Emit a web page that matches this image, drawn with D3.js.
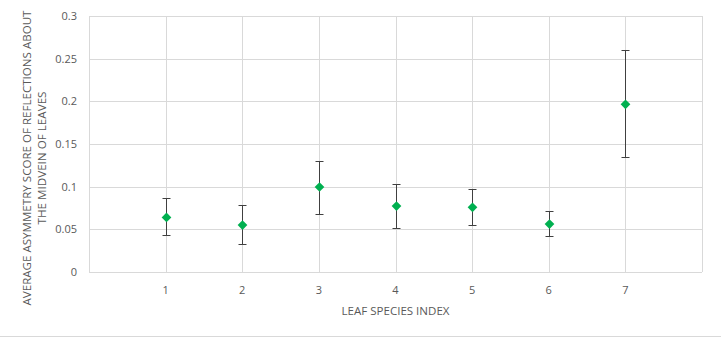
<!DOCTYPE html>
<html>
<head>
<meta charset="utf-8">
<script src="https://cdn.jsdelivr.net/npm/d3@7"></script>
<style>
  body { margin: 0; background: #fff; }
  svg { display: block; font-family: "Open Sans", sans-serif; }
</style>
</head>
<body>
<svg id="chart" width="721" height="338"></svg>
<script>
const species = [1, 2, 3, 4, 5, 6, 7];
const means = [0.064, 0.055, 0.0996, 0.0773, 0.0758, 0.0562, 0.1965];
const upper = [0.0864, 0.0785, 0.130, 0.1027, 0.0969, 0.0711, 0.2598];
const lower = [0.043, 0.0328, 0.0676, 0.0512, 0.0551, 0.0418, 0.1348];
const yTicks = [0, 0.05, 0.1, 0.15, 0.2, 0.25, 0.3];
const xTicks = [0, 1, 2, 3, 4, 5, 6, 7, 8];

const margin = { top: 16, right: 19, bottom: 66, left: 89 };
const width = 721, height = 338;
const svg = d3.select('#chart');

const x = d3.scaleLinear().domain([0, 8]).range([margin.left, width - margin.right]);
const y = d3.scaleLinear().domain([0, 0.3]).range([height - margin.bottom, margin.top]);

const grid = svg.append('g').attr('stroke', '#d9d9d9').attr('stroke-width', 1);
grid.selectAll('line.h').data(yTicks).join('line')
  .attr('x1', x(0)).attr('x2', x(8))
  .attr('y1', d => Math.round(y(d)) + 0.5).attr('y2', d => Math.round(y(d)) + 0.5);
grid.selectAll('line.v').data(xTicks).join('line')
  .attr('x1', d => Math.round(x(d)) + 0.5).attr('x2', d => Math.round(x(d)) + 0.5)
  .attr('y1', y(0.3)).attr('y2', y(0));

// tick labels
svg.append('g').selectAll('text').data(yTicks).join('text')
  .attr('x', 77).attr('y', d => y(d)).attr('dy', '0.35em')
  .attr('text-anchor', 'end').attr('font-size', 11).attr('fill', '#595959')
  .text(d => d);
svg.append('g').selectAll('text').data(species).join('text')
  .attr('x', d => x(d)).attr('y', 290).attr('dy', '0.35em')
  .attr('text-anchor', 'middle').attr('font-size', 11).attr('fill', '#595959')
  .text(d => d);

// axis titles
svg.append('text')
  .attr('x', x(4)).attr('y', 311).attr('dy', '0.35em')
  .attr('text-anchor', 'middle').attr('font-size', 10.5).attr('fill', '#595959')
  .attr('textLength', 108).attr('lengthAdjust', 'spacingAndGlyphs')
  .text('LEAF SPECIES INDEX');
const yt = svg.append('text')
  .attr('transform', 'translate(27,158) rotate(-90)')
  .attr('text-anchor', 'middle').attr('font-size', 10.5).attr('fill', '#595959');
yt.append('tspan').attr('x', 0).attr('y', 0).attr('dy', '0.35em')
  .attr('textLength', 295).attr('lengthAdjust', 'spacingAndGlyphs')
  .text('AVERAGE ASYMMETRY SCORE OF REFLECTIONS ABOUT');
yt.append('tspan').attr('x', 0).attr('y', 15).attr('dy', '0.35em')
  .attr('textLength', 133).attr('lengthAdjust', 'spacingAndGlyphs')
  .text('THE MIDVEIN OF LEAVES');

// error bars
const rows = species.map((s, i) => ({ s, m: means[i], hi: upper[i], lo: lower[i] }));
const eb = svg.append('g').attr('stroke', '#404040').attr('stroke-width', 1);
eb.selectAll('line.stem').data(rows).join('line')
  .attr('x1', d => Math.round(x(d.s)) + 0.5).attr('x2', d => Math.round(x(d.s)) + 0.5)
  .attr('y1', d => y(d.hi)).attr('y2', d => y(d.lo));
eb.selectAll('line.top').data(rows).join('line')
  .attr('x1', d => Math.round(x(d.s)) - 3.5).attr('x2', d => Math.round(x(d.s)) + 4.5)
  .attr('y1', d => Math.round(y(d.hi)) + 0.5).attr('y2', d => Math.round(y(d.hi)) + 0.5);
eb.selectAll('line.bot').data(rows).join('line')
  .attr('x1', d => Math.round(x(d.s)) - 3.5).attr('x2', d => Math.round(x(d.s)) + 4.5)
  .attr('y1', d => Math.round(y(d.lo)) + 0.5).attr('y2', d => Math.round(y(d.lo)) + 0.5);

// markers
const diamond = d3.symbol().type(d3.symbolDiamond2).size(60);
svg.append('g').selectAll('path').data(rows).join('path')
  .attr('transform', d => `translate(${Math.round(x(d.s)) + 0.5},${y(d.m)})`)
  .attr('d', diamond).attr('fill', '#00b050');

// chart bottom border
svg.append('line').attr('x1', 0).attr('x2', width).attr('y1', 336.5).attr('y2', 336.5)
  .attr('stroke', '#d9d9d9');
</script>
</body>
</html>
